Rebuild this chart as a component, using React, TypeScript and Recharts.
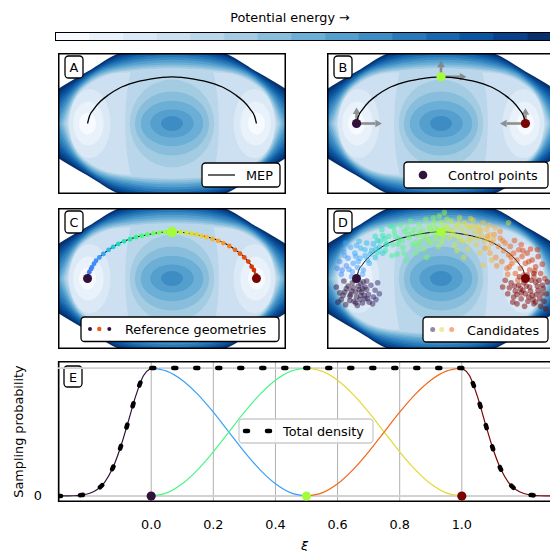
import React from 'react';
import * as Recharts from 'recharts';

const R: any = Recharts;
const { ComposedChart, Line, Scatter, XAxis, YAxis, CartesianGrid, ReferenceLine, BarChart, Bar, Cell } = R;
const usePlotAreaHook: any = R.usePlotArea;

const FONT = '"DejaVu Sans", Verdana, sans-serif';
const FS = 12.8;

// discrete energy levels of the filled contours / colour bar
const energyLevels = [0, 1, 2, 3, 4, 5, 6, 7, 8, 9, 10, 11, 12, 13, 14];
const blues = ['#f7fbff', '#e9f2fa', '#dbe9f6', '#cde0f1', '#bad6eb', '#a3cce3', '#88bedc', '#6baed6',
  '#549fcd', '#3d8dc4', '#2a7ab9', '#1967ad', '#0b559f', '#08428a', '#08306b'];
const turboStops = ['#30123b', '#4145ab', '#4675ed', '#39a2fc', '#1bcfd4', '#24eca6', '#61fc6c', '#a4fc3b',
  '#d1e834', '#f3c63a', '#fe9b2d', '#f36315', '#d93806', '#b11901', '#7a0403'];

const PANEL_X = [-1.35, 1.35];
const PANEL_Y = [-0.835, 0.835];
const PANEL_W = 228;
const PANEL_H = 141;

// outer wall contours, cut-off level first: tip, then half heights at |x| = 1.2, 1.0, 0.6, 0
const wallLevel = [15, 14, 13, 12, 11, 10, 9, 8, 7, 6, 5, 4];
const wallStations = [1.2, 1.0, 0.6, 0];
const wallTip = [1.95, 1.8, 1.68, 1.58, 1.5, 1.43, 1.375, 1.34, 1.31, 1.285, 1.26, 1.235];
const wallAt12 = [0.5, 0.47, 0.44, 0.41, 0.38, 0.35, 0.32, 0.29, 0.26, 0.23, 0.19, 0.15];
const wallAt10 = [0.615, 0.6, 0.585, 0.57, 0.555, 0.54, 0.525, 0.51, 0.495, 0.48, 0.465, 0.45];
const wallAt06 = [0.84, 0.815, 0.79, 0.765, 0.74, 0.715, 0.69, 0.67, 0.65, 0.63, 0.615, 0.6];
const wallTop = [0.93, 0.9, 0.87, 0.845, 0.815, 0.785, 0.755, 0.725, 0.7, 0.675, 0.65, 0.62];

// the two minima: reach towards the wall, towards the centre, half height
const minimaX = [-1, 1];
const wellLevel = [1, 2, 3];
const wellOuter = [0.1, 0.17, 0.22];
const wellInner = [0.1, 0.19, 0.27];
const wellRy = [0.13, 0.26, 0.41];

// central hill
const hillLevel = [4, 5, 6, 7, 8, 9];
const hillRx = [0.555, 0.5, 0.44, 0.37, 0.257, 0.13];
const hillRy = [1.3, 0.52, 0.38, 0.27, 0.166, 0.09];

// minimum energy path
const mepX = [-1, -0.98, -0.93, -0.85, -0.75, -0.62, -0.46, -0.26, 0, 0.26, 0.46, 0.62, 0.75, 0.85, 0.93, 0.98, 1];
const mepY = [0, 0.08, 0.165, 0.26, 0.34, 0.42, 0.48, 0.525, 0.553, 0.525, 0.48, 0.42, 0.34, 0.26, 0.165, 0.08, 0];

// control points and their tangent handles
const ctrlXi = [0, 0.5, 1];
const ctrlX = [-1, 0, 1];
const ctrlY = [0, 0.553, 0];
const handleAt = [0, 0, 1, 1, 2, 2];
const handleDX = [0, 0.3, 0, 0.3, 0, -0.3];
const handleDY = [0.19, 0, 0.19, 0, 0.18, 0];

// reference geometries along the path
const refXi = [0.15, 0.16, 0.17, 0.18, 0.19, 0.2, 0.22, 0.25, 0.28, 0.31, 0.34, 0.36, 0.38, 0.4, 0.42, 0.44, 0.46, 0.48,
  0.55, 0.57, 0.59, 0.61, 0.63, 0.65, 0.68, 0.7, 0.72, 0.75, 0.78, 0.8, 0.82, 0.84, 0.86, 0.87, 0.88];
const refX = [-0.98, -0.96, -0.947, -0.923, -0.9, -0.86, -0.813, -0.75, -0.695, -0.635, -0.568, -0.497, -0.426, -0.359,
  -0.292, -0.221, -0.15, -0.083, 0.103, 0.174, 0.233, 0.292, 0.351, 0.41, 0.481, 0.548, 0.607, 0.678, 0.746, 0.805,
  0.856, 0.903, 0.943, 0.97, 0.994];
const refY = [0.075, 0.11, 0.135, 0.175, 0.21, 0.25, 0.29, 0.34, 0.375, 0.41, 0.44, 0.465, 0.49, 0.505, 0.52, 0.533,
  0.543, 0.55, 0.549, 0.541, 0.531, 0.52, 0.505, 0.49, 0.468, 0.445, 0.42, 0.385, 0.34, 0.295, 0.25, 0.2, 0.14, 0.1, 0.04];

// sampled candidates [xi, x, y]
const candStart = [[0, -1.05, -0.05], [0.01, -0.98, -0.09], [0.02, -0.92, -0.04], [0, -1.12, -0.12], [0.01, -0.88, -0.13],
  [0, -1.01, -0.16], [0.02, -0.95, -0.2], [0, -1.08, -0.21], [0.03, -0.83, -0.08], [0.01, -0.9, -0.24], [0, -1.15, -0.03],
  [0, -1.2, -0.17], [0.03, -0.78, -0.14], [0.01, -1.03, -0.27], [0.02, -0.86, -0.19], [0, -0.97, -0.13], [0, -1.1, -0.09],
  [0.01, -0.93, -0.29], [0, -1.18, -0.25], [0.02, -0.8, -0.22], [0, -1.0, -0.22], [0.02, -0.9, -0.1], [0, -1.06, -0.15],
  [0.03, -0.75, -0.05], [0, -1.24, -0.1], [0.01, -0.96, -0.25], [0, -1.13, -0.31], [0.02, -0.85, -0.28], [0.03, -0.73, -0.18],
  [0.01, -1.02, -0.02], [0.01, -0.94, -0.16], [0, -1.08, -0.26], [0, -1.16, -0.2], [0.02, -0.88, -0.03], [0.01, -0.99, -0.32],
  [0.02, -0.81, -0.3], [0, -1.22, -0.28], [0.03, -0.77, -0.25], [0, -1.04, -0.11], [0.01, -0.91, -0.2],
  [0, -1.07, -0.19], [0.01, -0.95, -0.06], [0, -1.14, -0.16], [0.02, -0.87, -0.24], [0, -1.01, -0.29], [0.01, -0.93, -0.12]];
const candBlue = [[0.19, -1.05, 0.08], [0.17, -1.12, 0.15], [0.21, -0.98, 0.2], [0.2, -0.92, 0.1], [0.17, -1.18, 0.05],
  [0.22, -1.02, 0.3], [0.23, -0.9, 0.27], [0.19, -1.1, 0.24], [0.23, -0.85, 0.18], [0.18, -1.2, 0.2], [0.24, -0.95, 0.36],
  [0.25, -0.82, 0.33], [0.21, -1.07, 0.37], [0.26, -0.78, 0.25], [0.2, -1.15, 0.32], [0.25, -0.88, 0.42], [0.2, -0.99, 0.13],
  [0.17, -1.23, 0.12], [0.27, -0.73, 0.37], [0.21, -0.93, 0.05], [0.18, -1.06, 0.02], [0.26, -0.8, 0.41], [0.22, -1.13, 0.42],
  [0.28, -0.69, 0.3], [0.24, -0.97, 0.44], [0.22, -1.01, 0.26], [0.23, -0.87, 0.22], [0.18, -1.17, 0.1], [0.27, -0.75, 0.45],
  [0.24, -0.9, 0.34], [0.28, -0.65, 0.4], [0.2, -1.04, 0.18],
  [0.22, -0.96, 0.24], [0.2, -1.09, 0.11], [0.25, -0.84, 0.29], [0.23, -1.0, 0.39], [0.19, -1.14, 0.27], [0.26, -0.77, 0.35]];
const candGreen = [[0.34, -0.78, 0.5], [0.35, -0.72, 0.44], [0.35, -0.7, 0.58], [0.36, -0.66, 0.33], [0.37, -0.62, 0.5],
  [0.37, -0.6, 0.62], [0.38, -0.57, 0.4], [0.39, -0.55, 0.55], [0.39, -0.52, 0.29], [0.4, -0.5, 0.47], [0.41, -0.48, 0.64],
  [0.41, -0.45, 0.37], [0.42, -0.43, 0.56], [0.42, -0.41, 0.22], [0.43, -0.38, 0.48], [0.43, -0.36, 0.68], [0.43, -0.34, 0.4],
  [0.44, -0.32, 0.58], [0.44, -0.3, 0.3], [0.45, -0.28, 0.51], [0.45, -0.26, 0.64], [0.45, -0.24, 0.44], [0.46, -0.22, 0.57],
  [0.46, -0.2, 0.35], [0.46, -0.18, 0.7], [0.47, -0.16, 0.49], [0.47, -0.14, 0.62], [0.47, -0.12, 0.42], [0.48, -0.1, 0.55],
  [0.48, -0.08, 0.66], [0.48, -0.06, 0.47], [0.37, -0.64, 0.41], [0.38, -0.58, 0.27], [0.41, -0.46, 0.45], [0.43, -0.4, 0.6],
  [0.44, -0.3, 0.43], [0.46, -0.21, 0.5], [0.47, -0.13, 0.58], [0.35, -0.69, 0.51], [0.34, -0.75, 0.31], [0.39, -0.54, 0.5],
  [0.43, -0.35, 0.53], [0.45, -0.27, 0.38], [0.41, -0.44, 0.3], [0.46, -0.17, 0.25],
  [0.35, -0.67, 0.47], [0.4, -0.51, 0.41], [0.43, -0.39, 0.52], [0.45, -0.25, 0.55], [0.47, -0.15, 0.45], [0.38, -0.56, 0.61]];
const candTop = [[0.48, -0.04, 0.58], [0.5, 0.0, 0.66], [0.51, 0.03, 0.5], [0.49, -0.02, 0.74], [0.52, 0.05, 0.62],
  [0.48, -0.07, 0.6], [0.5, 0.02, 0.56], [0.52, 0.07, 0.7], [0.48, -0.05, 0.52], [0.5, 0.01, 0.44], [0.52, 0.06, 0.55],
  [0.47, -0.09, 0.72], [0.51, 0.04, 0.78], [0.49, -0.03, 0.38]];
const candYellow = [[0.54, 0.08, 0.6], [0.55, 0.1, 0.48], [0.55, 0.12, 0.68], [0.56, 0.14, 0.56], [0.56, 0.16, 0.4],
  [0.57, 0.18, 0.62], [0.57, 0.2, 0.5], [0.58, 0.22, 0.72], [0.58, 0.24, 0.58], [0.59, 0.26, 0.44], [0.59, 0.28, 0.66],
  [0.6, 0.3, 0.53], [0.6, 0.32, 0.35], [0.61, 0.34, 0.6], [0.61, 0.36, 0.47], [0.62, 0.38, 0.69], [0.62, 0.4, 0.55],
  [0.63, 0.42, 0.4], [0.63, 0.44, 0.62], [0.64, 0.46, 0.3], [0.64, 0.48, 0.5], [0.65, 0.5, 0.66], [0.65, 0.52, 0.44],
  [0.66, 0.54, 0.58], [0.66, 0.56, 0.36], [0.67, 0.58, 0.52], [0.67, 0.6, 0.22], [0.68, 0.62, 0.46], [0.68, 0.64, 0.6],
  [0.57, 0.19, 0.33], [0.59, 0.27, 0.25], [0.55, 0.11, 0.57], [0.61, 0.35, 0.71], [0.63, 0.43, 0.48], [0.65, 0.5, 0.16],
  [0.66, 0.57, 0.63], [0.58, 0.23, 0.46], [0.6, 0.31, 0.62], [0.63, 0.45, 0.56], [0.58, 0.8, 0.66],
  [0.56, 0.15, 0.52], [0.6, 0.33, 0.45], [0.62, 0.39, 0.62], [0.64, 0.47, 0.57], [0.66, 0.55, 0.47], [0.58, 0.21, 0.65]];
const candOrange = [[0.7, 0.52, 0.36], [0.71, 0.55, 0.5], [0.72, 0.58, 0.3], [0.72, 0.6, 0.42], [0.73, 0.63, 0.52],
  [0.74, 0.65, 0.25], [0.75, 0.68, 0.38], [0.75, 0.7, 0.48], [0.76, 0.72, 0.2], [0.77, 0.74, 0.33], [0.77, 0.76, 0.42],
  [0.78, 0.78, 0.12], [0.79, 0.8, 0.28], [0.79, 0.82, 0.38], [0.8, 0.84, 0.18], [0.81, 0.86, 0.3], [0.81, 0.88, 0.06],
  [0.82, 0.9, 0.22], [0.83, 0.92, 0.34], [0.83, 0.94, 0.12], [0.84, 0.96, 0.26], [0.85, 0.98, 0.04], [0.85, 1.0, 0.18],
  [0.86, 1.02, 0.3], [0.87, 1.05, 0.1], [0.87, 1.08, 0.22], [0.88, 1.1, 0.02], [0.88, 1.12, 0.14], [0.89, 1.15, 0.26],
  [0.89, 1.18, 0.06], [0.9, 1.2, 0.17], [0.9, 1.23, 0.0], [0.75, 0.7, 0.56], [0.74, 0.66, 0.15], [0.81, 0.87, 0.45],
  [0.83, 0.95, 0.4], [0.86, 1.06, 0.35], [0.78, 0.79, 0.05], [0.82, 0.91, -0.02], [0.88, 1.14, 0.34],
  [0.76, 0.73, 0.45], [0.8, 0.83, 0.25], [0.84, 0.97, 0.33], [0.86, 1.04, 0.2], [0.88, 1.11, 0.09], [0.79, 0.81, 0.14]];
const candEnd = [[1, 0.98, -0.05], [0.99, 1.05, -0.1], [1, 0.92, -0.08], [0.98, 1.12, -0.04], [1, 0.88, -0.15],
  [0.99, 1.0, -0.18], [1, 1.08, -0.2], [0.99, 0.95, -0.24], [1, 1.15, -0.14], [0.98, 0.83, -0.05], [1, 1.2, -0.08],
  [0.99, 1.03, -0.27], [1, 0.9, -0.3], [1, 1.17, -0.24], [0.98, 0.79, -0.18], [1, 1.1, -0.3], [0.99, 0.97, -0.14],
  [1, 1.25, -0.18], [0.99, 0.86, -0.22], [0.98, 1.02, 0.04], [1, 1.07, -0.02], [0.99, 0.93, 0.02], [1, 1.13, -0.19],
  [0.98, 0.81, -0.11], [1, 1.22, -0.27], [0.99, 0.99, -0.33], [1, 1.06, -0.15], [0.99, 0.9, -0.19], [1, 1.18, -0.33],
  [0.97, 0.76, -0.02], [1, 1.01, -0.09], [0.99, 1.14, -0.09], [1, 0.95, -0.17], [1, 1.26, -0.04], [0.99, 0.85, -0.28],
  [1, 1.09, -0.25], [0.97, 0.73, -0.1], [1, 1.21, -0.12], [1, 1.24, -0.36], [0.99, 1.1, 0.06],
  [1, 1.04, -0.22], [0.99, 0.94, -0.12], [1, 1.16, -0.02], [1, 1.12, -0.28], [0.99, 0.87, -0.09], [1, 1.19, -0.18]];

// sampling probability along the path coordinate xi
const E_X = [-0.3, 1.3];
const E_Y = [-0.047, 1.055];
const xiTicks = [0, 0.2, 0.4, 0.6, 0.8, 1.0];
const firstHalfX = [0, 0.05, 0.1, 0.15, 0.2, 0.25, 0.3, 0.35, 0.4, 0.45, 0.5];
const secondHalfX = [0.5, 0.55, 0.6, 0.65, 0.7, 0.75, 0.8, 0.85, 0.9, 0.95, 1];
const fallingY = [1, 0.976, 0.905, 0.794, 0.655, 0.5, 0.345, 0.206, 0.095, 0.024, 0];
const risingY = [0, 0.024, 0.095, 0.206, 0.345, 0.5, 0.655, 0.794, 0.905, 0.976, 1];
const tailLeftX = [-0.3, -0.275, -0.25, -0.225, -0.2, -0.175, -0.15, -0.125, -0.1, -0.075, -0.05, -0.025, 0];
const tailLeftY = [0, 0.001, 0.002, 0.007, 0.019, 0.048, 0.107, 0.212, 0.371, 0.572, 0.78, 0.94, 1];
const tailRightX = [1, 1.025, 1.05, 1.075, 1.1, 1.125, 1.15, 1.175, 1.2, 1.225, 1.25, 1.275, 1.3];
const tailRightY = [1, 0.94, 0.78, 0.572, 0.371, 0.212, 0.107, 0.048, 0.019, 0.007, 0.002, 0.001, 0];

const hexRgb = (h: string) => [1, 3, 5].map((i) => parseInt(h.slice(i, i + 2), 16));
function turbo(t: number) {
  const p = Math.max(0, Math.min(1, t)) * (turboStops.length - 1);
  const i = Math.min(Math.floor(p), turboStops.length - 2);
  const f = p - i;
  const a = hexRgb(turboStops[i]);
  const b = hexRgb(turboStops[i + 1]);
  return `rgb(${a.map((v, j) => Math.round(v + (b[j] - v) * f)).join(',')})`;
}

const pts = (xs: number[], ys: number[]) => xs.map((x, i) => ({ x, y: ys[i] }));
const triples = (list: number[][]) => list.map(([xi, x, y]) => ({ xi, x, y }));
const mepRows = pts(mepX, mepY);
const ctrlRows = ctrlX.map((x, i) => ({ x, y: ctrlY[i], xi: ctrlXi[i] }));
const refRows = refX.map((x, i) => ({ x, y: refY[i], xi: refXi[i] }));
const candRows = triples([...candStart, ...candBlue, ...candGreen, ...candTop, ...candYellow, ...candOrange, ...candEnd]);

type Area = { x: number; y: number; width: number; height: number };

function usePanelMap(domX: number[], domY: number[], fallback: Area) {
  const area = usePlotAreaHook ? usePlotAreaHook() : null;
  const a: Area = area && area.width ? area : fallback;
  const kx = a.width / (domX[1] - domX[0]);
  const ky = a.height / (domY[1] - domY[0]);
  return {
    a, kx, ky,
    sx: (v: number) => a.x + (v - domX[0]) * kx,
    sy: (v: number) => a.y + (domY[1] - v) * ky,
  };
}

const panelArea: Area = { x: 0, y: 0, width: PANEL_W, height: PANEL_H };
const eArea: Area = { x: 58, y: 0, width: 497, height: 141 };

// monotone cubic segments through pixel points ordered by x
function monotoneSegments(p: number[][]) {
  const n = p.length;
  const s: number[] = [];
  for (let i = 0; i < n - 1; i++) s.push((p[i + 1][1] - p[i][1]) / (p[i + 1][0] - p[i][0]));
  const t: number[] = new Array(n).fill(0);
  for (let i = 1; i < n - 1; i++) {
    const h0 = p[i][0] - p[i - 1][0], h1 = p[i + 1][0] - p[i][0];
    const q = (s[i - 1] * h1 + s[i] * h0) / (h0 + h1);
    t[i] = (Math.sign(s[i - 1]) + Math.sign(s[i])) * Math.min(Math.abs(s[i - 1]), Math.abs(s[i]), 0.5 * Math.abs(q)) || 0;
  }
  t[0] = (3 * s[0] - t[1]) / 2;
  t[n - 1] = (3 * s[n - 2] - t[n - 2]) / 2;
  const segs: number[][][] = [];
  for (let i = 0; i < n - 1; i++) {
    const h = (p[i + 1][0] - p[i][0]) / 3;
    segs.push([p[i], [p[i][0] + h, p[i][1] + t[i] * h], [p[i + 1][0] - h, p[i + 1][1] - t[i + 1] * h], p[i + 1]]);
  }
  return segs;
}

const f2 = (q: number[]) => `${q[0].toFixed(2)},${q[1].toFixed(2)}`;

function wallPath(m: any, i: number) {
  const hs = [wallAt12[i], wallAt10[i], wallAt06[i], wallTop[i]];
  const half = (sgn: number) => {
    const row: number[][] = [[m.sx(-wallTip[i]), m.sy(0)]];
    wallStations.forEach((st, j) => row.push([m.sx(-st), m.sy(sgn * hs[j])]));
    for (let j = wallStations.length - 2; j >= 0; j--) row.push([m.sx(wallStations[j]), m.sy(sgn * hs[j])]);
    row.push([m.sx(wallTip[i]), m.sy(0)]);
    return monotoneSegments(row);
  };
  const up = half(1);
  const low = half(-1).reverse();
  let d = `M${f2(up[0][0])}`;
  up.forEach((g) => { d += `C${f2(g[1])} ${f2(g[2])} ${f2(g[3])}`; });
  low.forEach((g) => { d += `C${f2(g[2])} ${f2(g[1])} ${f2(g[0])}`; });
  return `${d}Z`;
}

// filled contour levels of the model surface, painted from high to low
function Field({ id }: { id: string }) {
  const m = usePanelMap(PANEL_X, PANEL_Y, panelArea);
  const defs: any[] = [
    <clipPath id={`${id}-box`} key="box"><rect x={m.a.x} y={m.a.y} width={m.a.width} height={m.a.height} /></clipPath>,
  ];
  wallLevel.forEach((k, i) => defs.push(<clipPath id={`${id}-w${k}`} key={`c${k}`}><path d={wallPath(m, i)} /></clipPath>));
  const layers: any[] = [];
  for (let k = 15; k >= 1; k--) {
    const fill = blues[k - 1];
    const wi = wallLevel.indexOf(k);
    if (wi >= 0) layers.push(<path key={`w${k}`} d={wallPath(m, wi)} fill={fill} />);
    const ei = wellLevel.indexOf(k);
    if (ei >= 0) {
      minimaX.forEach((mx, j) => {
        const dir = Math.sign(mx);
        const outer = mx + dir * wellOuter[ei];
        const inner = mx - dir * wellInner[ei];
        layers.push(
          <ellipse key={`e${k}-${j}`} cx={m.sx((outer + inner) / 2)} cy={m.sy(0)}
            rx={(Math.abs(outer - inner) / 2) * m.kx} ry={wellRy[ei] * m.ky} fill={fill} />
        );
      });
    }
  }
  hillLevel.forEach((k, i) => layers.push(
    <ellipse key={`h${k}`} cx={m.sx(0)} cy={m.sy(0)} rx={hillRx[i] * m.kx} ry={hillRy[i] * m.ky}
      fill={blues[k]} clipPath={`url(#${id}-w${k + 1})`} />
  ));
  return (
    <g>
      <defs>{defs}</defs>
      <g clipPath={`url(#${id}-box)`}>{layers}</g>
    </g>
  );
}

// tangent handles on the control points
function Handles() {
  const m = usePanelMap(PANEL_X, PANEL_Y, panelArea);
  return (
    <g opacity={0.85}>
      {handleAt.map((c, i) => {
        const x0 = m.sx(ctrlX[c]), y0 = m.sy(ctrlY[c]);
        const x1 = m.sx(ctrlX[c] + handleDX[i]), y1 = m.sy(ctrlY[c] + handleDY[i]);
        const len = Math.hypot(x1 - x0, y1 - y0);
        const ux = (x1 - x0) / len, uy = (y1 - y0) / len;
        const bx = x1 - ux * 6.5, by = y1 - uy * 6.5;
        const nx = -uy * 3.8, ny = ux * 3.8;
        return (
          <g key={i}>
            <line x1={x0} y1={y0} x2={bx} y2={by} stroke="#7f7f7f" strokeWidth={2.6} />
            <polygon points={`${x1},${y1} ${bx + nx},${by + ny} ${bx - nx},${by - ny}`} fill="#7f7f7f" />
          </g>
        );
      })}
    </g>
  );
}

const txt = { fontFamily: FONT, fontSize: FS, fill: '#000' };

function Decor({ label, fallback, labelBox, children }: any) {
  const m = usePanelMap([0, 1], [0, 1], fallback);
  const a = m.a;
  const [lx, ly, lw, lh] = labelBox;
  return (
    <g>
      <rect x={a.x + 0.75} y={a.y + 0.75} width={a.width - 1.5} height={a.height - 1.5} fill="none" stroke="#000" strokeWidth={1.5} />
      <g transform={`translate(${a.x},${a.y})`}>
        <rect x={lx} y={ly} width={lw} height={lh} rx={3.5} fill="#fff" stroke="#000" strokeWidth={1.3} />
        <text x={lx + lw / 2} y={ly + lh / 2 + 0.5} textAnchor="middle" dominantBaseline="central" {...txt}>{label}</text>
        {children}
      </g>
    </g>
  );
}

const legendBox = (x: number, y: number, w: number, h: number) => (
  <rect x={x} y={y} width={w} height={h} rx={3.5} fill="#fff" stroke="#000" strokeWidth={1.3} />
);

const dot = (r: number, opacity = 1) => (p: any) => (
  <circle cx={p.cx} cy={p.cy} r={r} fill={turbo(p.payload.xi)} fillOpacity={opacity} />
);

function Panel({ id, left, top, label, children, legend }: any) {
  return (
    <div style={{ position: 'absolute', left, top }}>
      <ComposedChart width={PANEL_W} height={PANEL_H} margin={{ top: 0, right: 0, bottom: 0, left: 0 }}>
        <XAxis type="number" dataKey="x" domain={PANEL_X} allowDataOverflow hide />
        <YAxis type="number" dataKey="y" domain={PANEL_Y} allowDataOverflow hide />
        <Field id={id} />
        {children}
        <Decor label={label} fallback={panelArea} labelBox={[7, 3, 18, 22]}>{legend}</Decor>
      </ComposedChart>
    </div>
  );
}

const mepLine = (w: number) => (
  <Line data={mepRows} dataKey="y" type="monotone" stroke="#000" strokeWidth={w} dot={false} activeDot={false} isAnimationActive={false} />
);

function AxisText() {
  const m = usePanelMap(E_X, E_Y, eArea);
  const a = m.a;
  return (
    <g>
      <text x={a.x + a.width / 2 - 2} y={a.y + a.height + 43} textAnchor="middle" dominantBaseline="central" {...txt} fontStyle="italic">ξ</text>
      <text transform={`translate(18,${a.y + a.height / 2}) rotate(-90)`} textAnchor="middle" dominantBaseline="central" {...txt}>Sampling probability</text>
    </g>
  );
}

export default function App() {
  const wrap: React.CSSProperties = {
    position: 'fixed', left: 0, top: 0, width: 550, height: 551, overflow: 'hidden', background: '#fff', fontFamily: FONT,
  };
  const curve = (rows: any[], color: string, w = 1.2, extra: any = {}) => (
    <Line data={rows} dataKey="y" type="monotone" stroke={color} strokeWidth={w} dot={false} activeDot={false}
      isAnimationActive={false} {...extra} />
  );
  return (
    <div style={wrap}>
      <div style={{ position: 'absolute', left: 0, width: 580, top: 10, textAlign: 'center', fontSize: FS, lineHeight: '16px', color: '#000' }}>
        Potential energy →
      </div>
      <div style={{ position: 'absolute', left: 55, top: 32, width: 505, height: 7, border: '1px solid #000' }}>
        <BarChart width={505} height={7} data={energyLevels.map((level) => ({ level, v: 1 }))}
          margin={{ top: 0, right: 0, bottom: 0, left: 0 }} barCategoryGap={0}>
          <XAxis dataKey="level" hide />
          <YAxis domain={[0, 1]} hide />
          <Bar dataKey="v" isAnimationActive={false}>
            {energyLevels.map((l) => <Cell key={l} fill={blues[l]} stroke={blues[l]} strokeWidth={0.5} />)}
          </Bar>
        </BarChart>
      </div>

      <Panel id="pa" left={58} top={53} label="A"
        legend={<g>{legendBox(144, 110, 78, 24)}<line x1={150} x2={177} y1={122} y2={122} stroke="#000" strokeWidth={1.2} />
          <text x={188} y={122.5} dominantBaseline="central" {...txt}>MEP</text></g>}>
        {mepLine(1.3)}
      </Panel>

      <Panel id="pb" left={327} top={53} label="B"
        legend={<g>{legendBox(77, 109, 144, 26)}<circle cx={96} cy={122} r={4.3} fill={turbo(0)} />
          <text x={121} y={122.5} dominantBaseline="central" {...txt}>Control points</text></g>}>
        {mepLine(1.3)}
        <Handles />
        <Scatter data={ctrlRows} shape={dot(4.6)} isAnimationActive={false} />
      </Panel>

      <Panel id="pc" left={58} top={208} label="C"
        legend={<g>{legendBox(23, 109, 198, 24.5)}
          <circle cx={32} cy={121} r={2} fill={turbo(0)} /><circle cx={41.3} cy={121} r={2.2} fill={turbo(0.8)} />
          <circle cx={51.3} cy={121} r={2} fill={turbo(0)} />
          <text x={67} y={121.5} dominantBaseline="central" {...txt}>Reference geometries</text></g>}>
        {mepLine(1.1)}
        <Scatter data={refRows} shape={dot(2.4)} isAnimationActive={false} />
        <Scatter data={ctrlRows} shape={(p: any) => <circle cx={p.cx} cy={p.cy} r={p.payload.xi === 0.5 ? 5.2 : 4.5} fill={turbo(p.payload.xi)} />} isAnimationActive={false} />
      </Panel>

      <Panel id="pd" left={327} top={208} label="D"
        legend={<g>{legendBox(96, 109, 125, 25)}
          <circle cx={105.7} cy={121.5} r={2.5} fill={turbo(0)} fillOpacity={0.5} />
          <circle cx={114.7} cy={121.5} r={2.5} fill={turbo(0.6)} fillOpacity={0.5} />
          <circle cx={124.7} cy={121.5} r={2.5} fill={turbo(0.8)} fillOpacity={0.5} />
          <text x={140} y={122} dominantBaseline="central" {...txt}>Candidates</text></g>}>
        <Scatter data={candRows} shape={dot(2.8, 0.5)} isAnimationActive={false} />
        {mepLine(1)}
        <Scatter data={ctrlRows} shape={dot(4.5)} isAnimationActive={false} />
      </Panel>

      <div style={{ position: 'absolute', left: 0, top: 361 }}>
        <ComposedChart width={555} height={190} margin={{ top: 0, right: 0, bottom: 0, left: 0 }}>
          <XAxis type="number" dataKey="x" domain={E_X} allowDataOverflow ticks={xiTicks} height={49}
            axisLine={false} tickLine={false} tickSize={0} tickMargin={0} interval={0}
            tick={(p: any) => (
              <text x={p.x} y={p.y + 22} textAnchor="middle" dominantBaseline="central" {...txt}>{Number(p.payload.value).toFixed(1)}</text>
            )} />
          <YAxis type="number" dataKey="y" domain={E_Y} allowDataOverflow ticks={[0, 1]} width={58}
            axisLine={false} tickLine={false} tickSize={0} tickMargin={0} interval={0}
            tick={(p: any) => (p.payload.value === 0
              ? <text x={p.x - 16} y={p.y} textAnchor="end" dominantBaseline="central" {...txt}>0</text>
              : <g />)} />
          <CartesianGrid horizontal={false} stroke="#b0b0b0" strokeWidth={1} />
          <ReferenceLine y={0} stroke="#d2d2d2" strokeWidth={1.8} />
          <ReferenceLine y={1} stroke="#d2d2d2" strokeWidth={1.8} />
          {curve(pts(firstHalfX, fallingY), turbo(0.21))}
          {curve(pts(firstHalfX, risingY), turbo(0.4))}
          {curve(pts(secondHalfX, fallingY), turbo(0.6))}
          {curve(pts(secondHalfX, risingY), turbo(0.78))}
          {curve(pts(tailLeftX, tailLeftY), turbo(0))}
          {curve(pts(tailRightX, tailRightY), turbo(1))}
          {curve(pts([...tailLeftX, ...tailRightX], [...tailLeftY, ...tailRightY]), '#000', 4.6,
            { strokeDasharray: '3 19', strokeLinecap: 'round' })}
          <Scatter data={ctrlXi.map((xi) => ({ x: xi, y: 0, xi }))} shape={dot(4.6)} isAnimationActive={false} />
          <AxisText />
          <Decor label="E" fallback={eArea} labelBox={[6, 5, 18, 21]}>
            <rect x={181} y={58} width={134} height={24} rx={3.5} fill="#fff" fillOpacity={0.8} stroke="#cccccc" strokeWidth={1.3} />
            <line x1={187} x2={214} y1={70} y2={70} stroke="#000" strokeWidth={4.6} strokeDasharray="3 19" strokeLinecap="round" />
            <text x={225} y={70.5} dominantBaseline="central" {...txt}>Total density</text>
          </Decor>
        </ComposedChart>
      </div>
    </div>
  );
}
